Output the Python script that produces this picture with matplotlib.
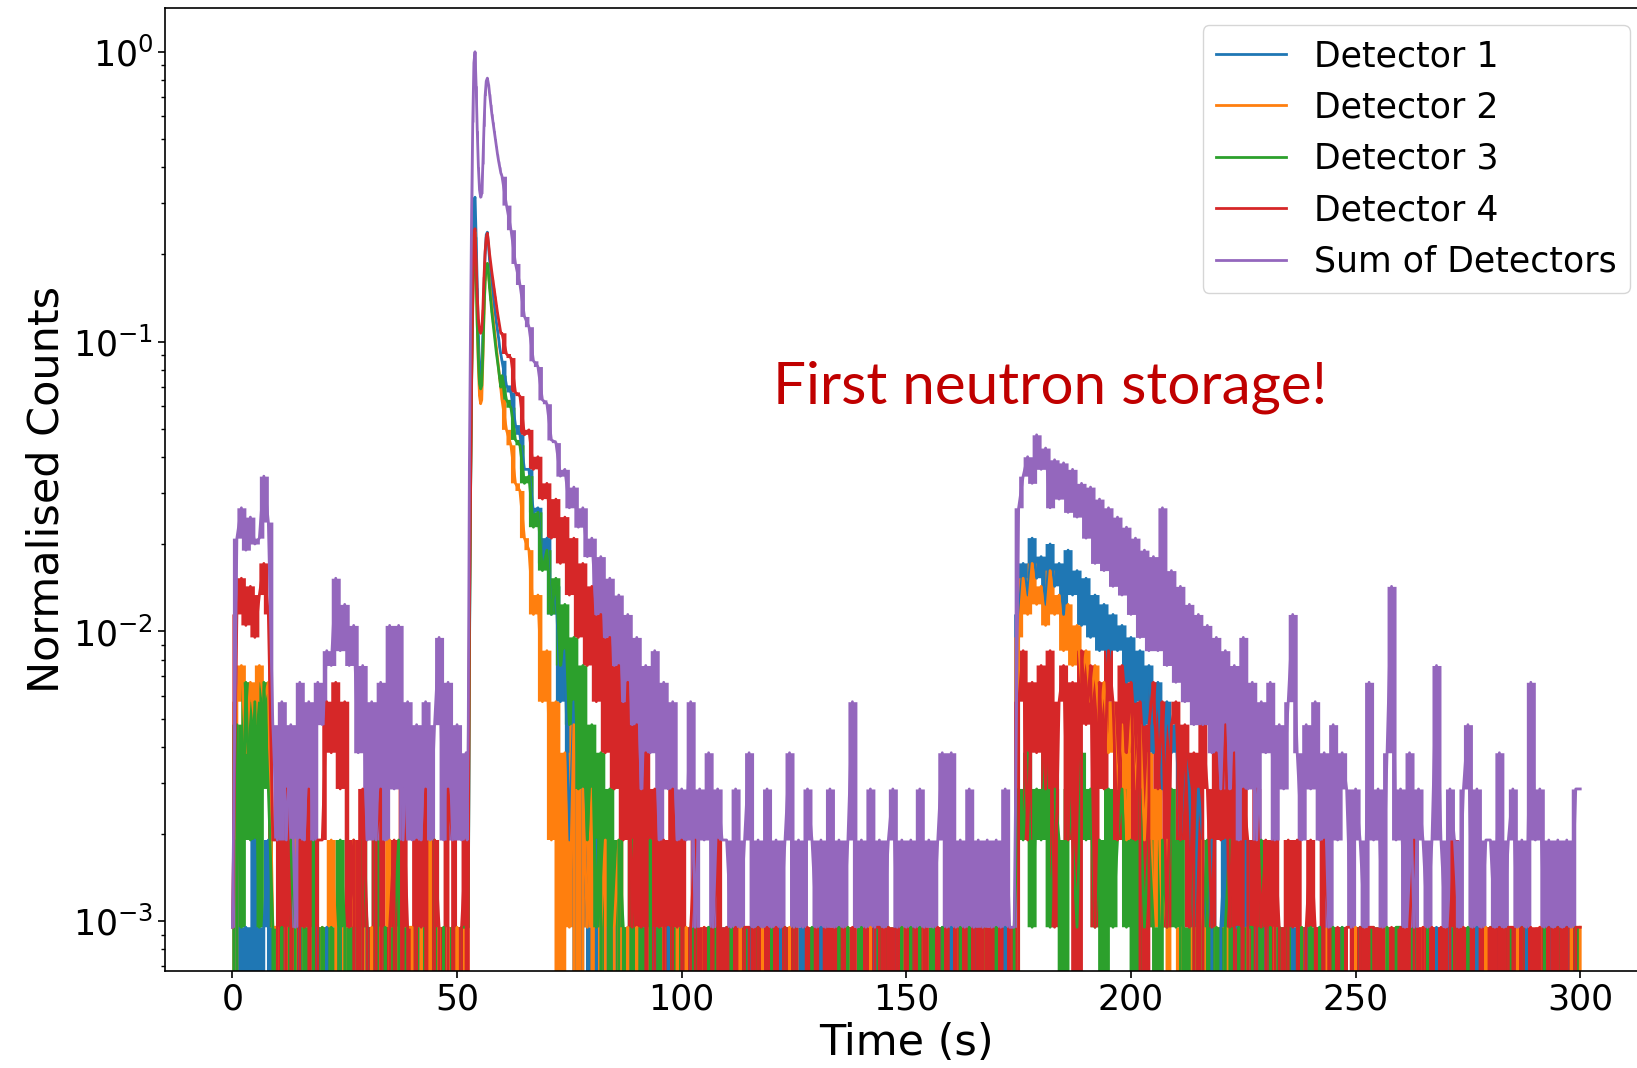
import numpy as np
import matplotlib
matplotlib.use("Agg")
import matplotlib.pyplot as plt

# time grid (s): 1 s steps, finer around the main peak
time_s = np.concatenate([np.arange(0, 52), np.arange(52, 60, 0.25), np.arange(60, 301)])

# counts per bin
det1 = [
    0, 2, 0, 1, 0, 2, 0, 1, 2, 0,
    0, 0, 1, 0, 0, 1, 0, 0, 0, 1,
    0, 1, 0, 0, 1, 0, 0, 1, 0, 0,
    1, 0, 0, 1, 0, 0, 0, 1, 0, 0,
    0, 0, 1, 0, 0, 1, 0, 0, 1, 0,
    0, 1,
    0, 1, 1, 8, 30, 90, 190, 320,
    330, 240, 160, 110, 85, 78, 82, 110,
    160, 210, 245, 250, 225, 200, 180, 165,
    150, 140, 130, 122, 115, 108, 100, 95,
    90, 74, 70, 54, 50, 38, 38, 27, 28, 18,
    22, 12, 15, 6, 9, 2, 6, 0, 3, 1,
    0, 2, 0, 1, 0, 1, 0, 0, 1, 0,
    0, 1, 0, 0, 1, 0, 0, 1, 0, 0,
    0, 0, 1, 0, 0, 0, 1, 0, 0, 0,
    1, 0, 0, 0, 0, 1, 0, 0, 0, 0,
    0, 0, 1, 0, 0, 0, 0, 1, 0, 0,
    0, 1, 0, 0, 0, 0, 1, 0, 0, 0,
    0, 0, 0, 1, 0, 0, 0, 0, 1, 0,
    0, 0, 1, 0, 0, 0, 0, 0, 1, 0,
    1, 0, 0, 0, 0, 1, 0, 0, 0, 0,
    0, 0, 1, 0, 0, 12, 18, 14, 22, 16,
    19, 13, 21, 15, 18, 12, 20, 14, 17, 11,
    16, 10, 14, 9, 13, 8, 12, 9, 11, 7,
    10, 6, 9, 5, 8, 4, 7, 3, 6, 4,
    5, 2, 4, 3, 1, 3, 2, 1, 2, 0,
    1, 2, 0, 1, 1, 0, 2, 0, 1, 0,
    1, 0, 0, 1, 0, 0, 1, 0, 0, 1,
    0, 0, 1, 0, 0, 0, 0, 1, 0, 0,
    0, 1, 0, 0, 0, 0, 1, 0, 0, 0,
    0, 0, 0, 1, 0, 0, 0, 0, 1, 0,
    0, 1, 0, 0, 0, 0, 0, 1, 0, 0,
    0, 0, 1, 0, 0, 0, 0, 0, 1, 0,
    0, 0, 0, 1, 0, 0, 0, 1, 0, 0,
    0,
]

det2 = [
    0, 6, 8, 4, 7, 5, 8, 6, 7, 1,
    1, 0, 1, 0, 2, 0, 1, 0, 1, 0,
    1, 0, 2, 1, 0, 1, 0, 2, 0, 1,
    0, 1, 0, 1, 0, 2, 0, 1, 0, 1,
    1, 0, 1, 0, 2, 0, 1, 0, 1, 0,
    1, 0,
    1, 0, 2, 10, 35, 80, 150, 240,
    250, 180, 120, 85, 68, 64, 66, 90,
    130, 170, 190, 195, 180, 165, 150, 138,
    128, 118, 108, 100, 92, 85, 78, 72,
    66, 52, 46, 34, 32, 22, 20, 12, 14, 6,
    9, 2, 6, 0, 4, 1, 5, 0, 3, 1,
    3, 0, 1, 2, 0, 1, 2, 0, 1, 0,
    1, 0, 0, 1, 0, 0, 1, 0, 0, 1,
    0, 1, 0, 0, 0, 1, 0, 0, 0, 0,
    0, 0, 0, 1, 0, 0, 0, 0, 1, 0,
    0, 0, 0, 0, 1, 0, 0, 0, 0, 0,
    1, 0, 0, 0, 0, 0, 0, 1, 0, 0,
    0, 0, 1, 0, 0, 0, 0, 0, 0, 1,
    0, 0, 0, 0, 1, 0, 0, 0, 0, 0,
    0, 1, 0, 0, 0, 0, 0, 1, 0, 0,
    0, 0, 0, 1, 0, 10, 16, 12, 18, 13,
    15, 11, 17, 12, 14, 9, 13, 8, 11, 7,
    9, 6, 8, 5, 7, 4, 6, 3, 5, 2,
    6, 3, 5, 2, 4, 1, 3, 1, 2, 0,
    0, 1, 0, 0, 1, 0, 2, 0, 0, 1,
    0, 1, 0, 0, 0, 0, 1, 0, 0, 0,
    0, 0, 1, 0, 0, 0, 0, 0, 1, 0,
    0, 0, 0, 0, 1, 0, 0, 0, 0, 0,
    1, 0, 0, 0, 0, 0, 0, 1, 0, 0,
    0, 0, 0, 0, 0, 1, 0, 0, 0, 0,
    0, 0, 1, 0, 0, 0, 0, 0, 0, 1,
    0, 0, 0, 0, 0, 0, 1, 0, 0, 0,
    0, 1, 0, 0, 0, 0, 0, 0, 1, 0,
    1,
]

det3 = [
    0, 5, 1, 7, 2, 6, 1, 7, 3, 1,
    0, 1, 0, 2, 1, 0, 1, 0, 2, 0,
    1, 0, 1, 0, 2, 1, 0, 1, 0, 2,
    1, 0, 2, 0, 1, 0, 1, 2, 0, 1,
    0, 1, 0, 1, 0, 2, 0, 1, 0, 1,
    0, 1,
    1, 1, 1, 9, 30, 75, 140, 230,
    240, 175, 120, 90, 75, 72, 74, 95,
    135, 170, 190, 195, 180, 160, 145, 132,
    122, 112, 104, 96, 90, 84, 78, 73,
    80, 66, 62, 48, 46, 34, 36, 24, 27, 17,
    20, 12, 16, 8, 13, 5, 10, 3, 8, 2,
    5, 1, 4, 0, 3, 0, 2, 1, 0, 2,
    0, 1, 0, 2, 0, 1, 0, 0, 1, 0,
    1, 0, 0, 1, 0, 0, 1, 0, 1, 0,
    0, 1, 0, 0, 1, 0, 0, 1, 0, 0,
    1, 0, 0, 1, 0, 1, 0, 0, 0, 1,
    0, 0, 1, 0, 0, 1, 0, 1, 0, 0,
    1, 0, 0, 0, 1, 0, 1, 0, 0, 1,
    0, 1, 0, 1, 0, 0, 1, 0, 1, 0,
    0, 0, 1, 0, 1, 0, 0, 1, 0, 0,
    1, 0, 0, 0, 1, 3, 2, 4, 1, 3,
    2, 4, 1, 3, 2, 0, 3, 2, 1, 4,
    2, 3, 1, 2, 0, 3, 1, 2, 3, 1,
    2, 0, 3, 1, 2, 1, 0, 2, 1, 3,
    1, 2, 0, 1, 3, 0, 1, 2, 0, 1,
    0, 1, 2, 0, 1, 0, 1, 1, 0, 2,
    0, 1, 0, 1, 0, 1, 0, 0, 1, 0,
    1, 0, 1, 0, 0, 1, 0, 1, 0, 0,
    0, 1, 0, 0, 1, 0, 0, 1, 0, 1,
    1, 0, 0, 1, 0, 0, 1, 0, 0, 0,
    0, 0, 1, 0, 0, 1, 0, 0, 1, 0,
    1, 0, 0, 0, 1, 0, 0, 1, 0, 0,
    0, 0, 1, 0, 0, 1, 0, 0, 0, 1,
    0,
]

det4 = [
    1, 12, 16, 11, 15, 10, 14, 18, 12, 2,
    2, 0, 3, 1, 0, 2, 1, 3, 0, 2,
    2, 6, 4, 7, 3, 6, 1, 2, 0, 3,
    1, 0, 2, 3, 0, 1, 2, 0, 3, 1,
    0, 2, 1, 3, 0, 2, 1, 0, 3, 2,
    0, 1,
    2, 0, 1, 12, 32, 80, 150, 245,
    257, 200, 150, 125, 115, 112, 115, 135,
    175, 215, 240, 248, 230, 210, 195, 182,
    171, 160, 150, 140, 132, 125, 118, 112,
    112, 95, 92, 70, 68, 50, 52, 38, 42, 30,
    34, 22, 30, 18, 26, 14, 22, 10, 18, 8,
    15, 6, 12, 4, 10, 3, 8, 2, 7, 1,
    5, 1, 4, 0, 3, 1, 2, 0, 3, 1,
    2, 0, 1, 2, 0, 1, 0, 1, 2, 0,
    1, 0, 1, 0, 1, 1, 0, 1, 0, 1,
    0, 1, 0, 1, 0, 1, 0, 0, 1, 0,
    1, 0, 1, 0, 1, 0, 1, 0, 1, 0,
    0, 1, 0, 1, 1, 0, 1, 0, 1, 0,
    1, 0, 1, 0, 1, 0, 0, 1, 0, 1,
    0, 1, 0, 1, 0, 1, 0, 1, 0, 1,
    0, 1, 0, 1, 0, 6, 9, 2, 7, 4,
    8, 3, 9, 1, 6, 8, 2, 7, 0, 9,
    5, 8, 1, 7, 3, 9, 6, 2, 8, 4,
    7, 2, 6, 0, 5, 7, 3, 6, 1, 5,
    6, 2, 5, 1, 4, 0, 5, 3, 1, 4,
    2, 5, 1, 4, 0, 3, 2, 0, 3, 1,
    2, 0, 2, 1, 0, 2, 1, 2, 0, 1,
    2, 1, 0, 2, 1, 0, 1, 0, 1, 1,
    0, 1, 0, 1, 1, 0, 1, 0, 1, 0,
    1, 0, 1, 2, 0, 1, 0, 1, 0, 1,
    0, 1, 2, 0, 1, 0, 1, 0, 1, 0,
    1, 0, 1, 0, 1, 1, 0, 1, 0, 1,
    0, 1, 0, 1, 0, 1, 0, 1, 0, 1,
    1,
]

det_sum = [
    1, 22, 28, 20, 26, 21, 22, 36, 25, 5,
    2, 6, 2, 5, 1, 7, 2, 6, 2, 7,
    5, 9, 8, 16, 9, 13, 8, 11, 4, 8,
    2, 6, 2, 7, 2, 11, 3, 11, 2, 6,
    2, 5, 2, 6, 2, 5, 10, 2, 7, 2,
    5, 2,
    4, 2, 5, 40, 120, 300, 600, 960,
    1048, 800, 560, 420, 350, 330, 340, 430,
    580, 740, 830, 850, 810, 750, 690, 640,
    600, 560, 525, 495, 465, 440, 420, 400,
    390, 310, 255, 195, 165, 128, 118, 90, 86, 66,
    64, 48, 47, 36, 38, 28, 33, 24, 28, 19,
    22, 12, 19, 10, 16, 8, 14, 6, 12, 5,
    10, 3, 8, 4, 9, 2, 7, 3, 6, 2,
    3, 2, 6, 1, 3, 2, 4, 1, 3, 2,
    2, 1, 3, 1, 2, 4, 1, 2, 1, 3,
    1, 2, 1, 2, 4, 1, 2, 1, 3, 2,
    1, 2, 1, 3, 1, 2, 1, 2, 6, 1,
    2, 1, 3, 1, 2, 1, 2, 3, 1, 2,
    1, 2, 1, 3, 1, 2, 1, 2, 4, 1,
    4, 1, 2, 1, 3, 1, 2, 1, 2, 1,
    2, 1, 3, 1, 1, 28, 36, 42, 34, 50,
    38, 45, 28, 41, 30, 40, 27, 38, 26, 34,
    22, 33, 18, 30, 17, 28, 15, 26, 14, 24,
    12, 22, 10, 20, 9, 19, 9, 28, 8, 17,
    7, 15, 6, 13, 5, 12, 5, 11, 4, 10,
    3, 9, 3, 8, 2, 10, 3, 7, 2, 6,
    4, 7, 2, 5, 3, 6, 12, 4, 2, 5,
    3, 6, 2, 4, 1, 5, 2, 4, 3, 1,
    3, 2, 1, 7, 2, 3, 1, 4, 15, 2,
    3, 1, 4, 1, 3, 2, 1, 2, 8, 2,
    1, 3, 2, 1, 3, 5, 1, 3, 1, 2,
    2, 1, 4, 1, 2, 3, 1, 2, 1, 7,
    2, 3, 1, 2, 1, 2, 1, 2, 1, 3,
    3,
]

labels = ["Detector 1", "Detector 2", "Detector 3", "Detector 4", "Sum of Detectors"]
colors = ["#1f77b4", "#ff7f0e", "#2ca02c", "#d62728", "#9467bd"]
series = [det1, det2, det3, det4, det_sum]

for name, s in zip(labels, series):
    if len(s) != len(time_s):
        raise ValueError(f"{name}: {len(s)} values, expected {len(time_s)}")

norm = max(det_sum)

fig = plt.figure(figsize=(16.37, 10.68), dpi=100)
ax = fig.add_axes([0.1008, 0.0908, 0.9057, 0.9017])
ax.set_yscale("log")

for name, s, c in zip(labels, series, colors):
    y = np.asarray(s, dtype=float) / norm
    # the range the trace sweeps between neighbouring bins
    lo = np.append(np.minimum(y[:-1], y[1:]), y[-1])
    hi = np.append(np.maximum(y[:-1], y[1:]), y[-1])
    ax.fill_between(time_s, lo, hi, step="post", color=c, linewidth=0)
    ax.plot(time_s, y, color=c, linewidth=2.0, label=name)

ax.set_xlabel("Time (s)", fontsize=31)
ax.set_ylabel("Normalised Counts", fontsize=31)
ax.tick_params(axis="both", which="major", labelsize=25, length=5, width=1.2)
ax.tick_params(axis="both", which="minor", length=3, width=1.0)
for sp in ax.spines.values():
    sp.set_linewidth(1.2)

ax.legend(loc="upper right", fontsize=25)

fig.text(1050 / 1637, 1 - 403 / 1068, "First neutron storage!", color="#c00000",
         fontsize=42, family=["Lato", "DejaVu Sans"], ha="center", va="baseline")

fig.savefig("out.png", dpi=100)
